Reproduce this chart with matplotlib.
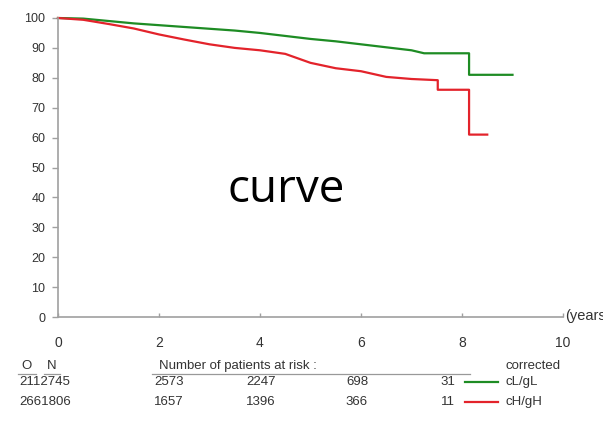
import numpy as np
import matplotlib.pyplot as plt

# --- data (repeated times mark the vertical drops) ---
t_low = [0, 0.5, 1.0, 1.5, 2.0, 2.5, 3.0, 3.5, 4.0, 4.5, 5.0, 5.5, 6.0, 6.5, 7.0, 7.25, 8.14, 8.14, 9.0]
s_low = [100, 99.8, 99.0, 98.2, 97.6, 97.0, 96.4, 95.8, 95.0, 94.0, 93.0, 92.2, 91.2, 90.2, 89.2, 88.2, 88.2, 81.0, 81.0]

t_high = [0, 0.5, 1.0, 1.5, 2.0, 2.5, 3.0, 3.5, 4.0, 4.5, 5.0, 5.5, 6.0, 6.5, 7.0, 7.52, 7.52, 8.14, 8.14, 8.5]
s_high = [100, 99.4, 98.0, 96.5, 94.5, 92.8, 91.2, 90.0, 89.2, 88.0, 85.0, 83.2, 82.2, 80.3, 79.6, 79.2, 76.0, 76.0, 61.0, 61.0]

xticks = [0, 2, 4, 6, 8, 10]
yticks = list(range(0, 101, 10))

groups = ['cL/gL', 'cH/gH']
obs = ['211', '266']
n0 = ['2745', '1806']
at_risk = [[2573, 2247, 698, 31], [1657, 1396, 366, 11]]
colors = ['#1e8c24', '#e3232b']

fig = plt.figure(figsize=(6.03, 4.24), dpi=100)
W, H = 603, 424


def fx(px):
    return px / W


def fy(py):
    return 1 - py / H


ax = fig.add_axes([fx(58), fy(317), fx(563) - fx(58), fy(18) - fy(317)])

ax.plot(t_low, s_low, color=colors[0], lw=1.6, clip_on=False)
ax.plot(t_high, s_high, color=colors[1], lw=1.6, clip_on=False)

ax.set_xlim(0, 10)
ax.set_ylim(0, 100)
ax.set_xticks(xticks)
ax.set_yticks(yticks)
for s in ['top', 'right']:
    ax.spines[s].set_visible(False)
for s in ['left', 'bottom']:
    ax.spines[s].set_color('#a0a0a0')
    ax.spines[s].set_linewidth(1.2)
ax.tick_params(axis='y', direction='out', length=4, width=1, color='#a0a0a0',
               labelsize=9, labelcolor='#333333', pad=5)
ax.tick_params(axis='x', direction='in', length=3, width=1, color='#a0a0a0',
               labelsize=10, labelcolor='#333333', pad=14)
for lab in ax.get_xticklabels() + ax.get_yticklabels():
    lab.set_fontfamily('Liberation Sans')

fig.text(fx(565), fy(316), '(years)', fontsize=10.5, color='#333333',
         family='Liberation Sans', va='center', ha='left')

fig.text(fx(286), fy(190), 'curve', fontsize=33, color='black',
         family='Open Sans', ha='center', va='center')

# --- risk table ---
tc = '#333333'
fs = 9.5
fig.text(fx(27), fy(366), 'O', fontsize=fs, color=tc, family='Liberation Sans', ha='center', va='center')
fig.text(fx(52), fy(366), 'N', fontsize=fs, color=tc, family='Liberation Sans', ha='center', va='center')
fig.text(fx(159), fy(366), 'Number of patients at risk :', fontsize=fs, color=tc,
         family='Liberation Sans', ha='left', va='center')
fig.text(fx(505), fy(366), 'corrected', fontsize=fs, color=tc,
         family='Liberation Sans', ha='left', va='center')
for x0, x1 in [(18, 36), (44, 60), (152, 470)]:
    fig.add_artist(plt.Line2D([fx(x0), fx(x1)], [fy(374), fy(374)], color='#999999', lw=0.9))

col_x = [169, 261, 357, 455]
row_y = [382, 402]
for i in range(2):
    fig.text(fx(19), fy(row_y[i]), obs[i] + n0[i], fontsize=fs, color=tc,
             family='Liberation Sans', ha='left', va='center')
    for j, v in enumerate(at_risk[i]):
        ha = 'right' if j == 3 else 'center'
        fig.text(fx(col_x[j]), fy(row_y[i]), str(v), fontsize=fs, color=tc,
                 family='Liberation Sans', ha=ha, va='center')
    fig.add_artist(plt.Line2D([fx(465), fx(498)], [fy(row_y[i]), fy(row_y[i])],
                              color=colors[i], lw=1.6))
    fig.text(fx(505), fy(row_y[i]), groups[i], fontsize=fs, color=tc,
             family='Liberation Sans', ha='left', va='center')

fig.savefig('out.png', dpi=100)
